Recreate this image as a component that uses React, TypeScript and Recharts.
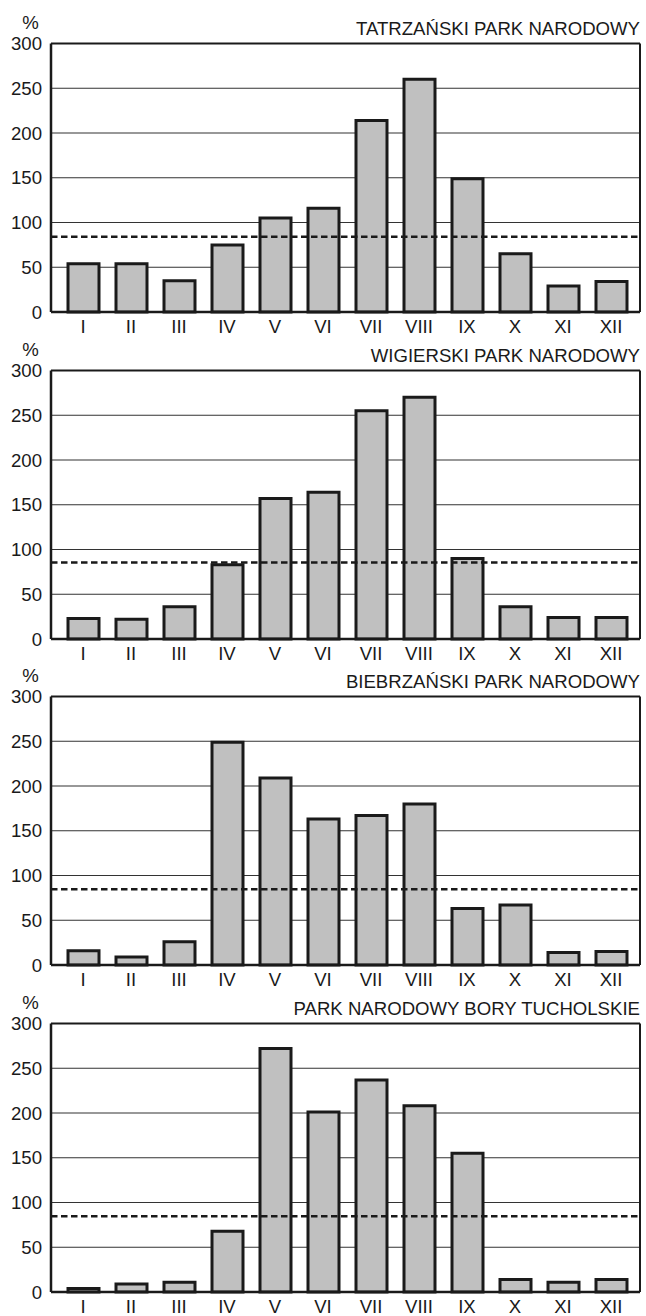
import React from 'react';
import { BarChart, Bar, XAxis, YAxis, CartesianGrid, ReferenceLine } from 'recharts';

const months = ['I', 'II', 'III', 'IV', 'V', 'VI', 'VII', 'VIII', 'IX', 'X', 'XI', 'XII'];
const tatraValues = [54, 54, 35, 75, 105, 116, 214, 260, 149, 65, 29, 34];
const wigryValues = [23, 22, 36, 83, 157, 164, 255, 270, 90, 36, 24, 24];
const biebrzaValues = [16, 9, 26, 249, 209, 163, 167, 180, 63, 67, 14, 15];
const boryValues = [4, 9, 11, 68, 272, 201, 237, 208, 155, 14, 11, 14];
const parkTitles = [
  'TATRZAŃSKI PARK NARODOWY',
  'WIGIERSKI PARK NARODOWY',
  'BIEBRZAŃSKI PARK NARODOWY',
  'PARK NARODOWY BORY TUCHOLSKIE',
];
const meanLines = [84, 85.5, 84.5, 84.5];
const yTicks = [0, 50, 100, 150, 200, 250, 300];
const unitLabel = '%';

const FONT = '"Liberation Sans", Arial, sans-serif';
const INK = '#1a1a1a';
const W = 646;
const CH = 340;
const STEP = 326.67;
const MARGIN_TOP = 43.5;
const FS = 18.6;

type PanelProps = { values: number[]; title: string; mean: number; top: number };

function Panel({ values, title, mean, top }: PanelProps) {
  const data = months.map((m, i) => ({ month: m, value: values[i] }));
  const tickStyle = { fill: INK, fontSize: FS, fontFamily: FONT };
  return (
    <div style={{ position: 'absolute', left: 0, top, width: W, height: CH }}>
      <BarChart
        width={W}
        height={CH}
        data={data}
        margin={{ top: MARGIN_TOP, right: 5, bottom: 0, left: 0 }}
        barSize={31}
      >
        <CartesianGrid yAxisId="left" vertical={false} stroke="#333" strokeWidth={1.2} />
        <XAxis
          dataKey="month"
          height={28}
          padding={{ left: 8, right: 5 }}
          tickLine={false}
          tickSize={0}
          tickMargin={8}
          interval={0}
          axisLine={{ stroke: INK, strokeWidth: 2.5 }}
          tick={tickStyle}
        />
        <YAxis
          yAxisId="left"
          domain={[0, 300]}
          ticks={yTicks}
          width={51}
          tickLine={false}
          tickSize={0}
          tickMargin={9}
          interval={0}
          axisLine={{ stroke: INK, strokeWidth: 2.5 }}
          tick={tickStyle}
        />
        <YAxis
          yAxisId="right"
          orientation="right"
          domain={[0, 300]}
          ticks={yTicks}
          width={1}
          tick={false}
          tickLine={false}
          axisLine={{ stroke: INK, strokeWidth: 2 }}
        />
        <ReferenceLine yAxisId="left" y={300} stroke={INK} strokeWidth={2} />
        <Bar yAxisId="left" dataKey="value" fill="#c0c0c0" stroke={INK} strokeWidth={3} isAnimationActive={false} />
        <ReferenceLine yAxisId="left" y={mean} stroke={INK} strokeWidth={2.5} strokeDasharray="6.5 3.5" />
      </BarChart>
      <svg
        width={W}
        height={CH}
        style={{ position: 'absolute', left: 0, top: 0, pointerEvents: 'none' }}
      >
        <text x={640} y={MARGIN_TOP - 9} textAnchor="end" fontSize={FS} fontFamily={FONT} fill={INK}>
          {title}
        </text>
        <text x={30.5} y={MARGIN_TOP - 15} textAnchor="middle" fontSize={FS} fontFamily={FONT} fill={INK}>
          {unitLabel}
        </text>
      </svg>
    </div>
  );
}

export default function App() {
  const series = [tatraValues, wigryValues, biebrzaValues, boryValues];
  return (
    <div style={{ position: 'absolute', left: 0, top: 0, width: W, height: 1316, background: '#fff' }}>
      {series.map((vals, i) => (
        <Panel
          key={parkTitles[i]}
          values={vals}
          title={parkTitles[i]}
          mean={meanLines[i]}
          top={Math.round(i * STEP)}
        />
      ))}
    </div>
  );
}
